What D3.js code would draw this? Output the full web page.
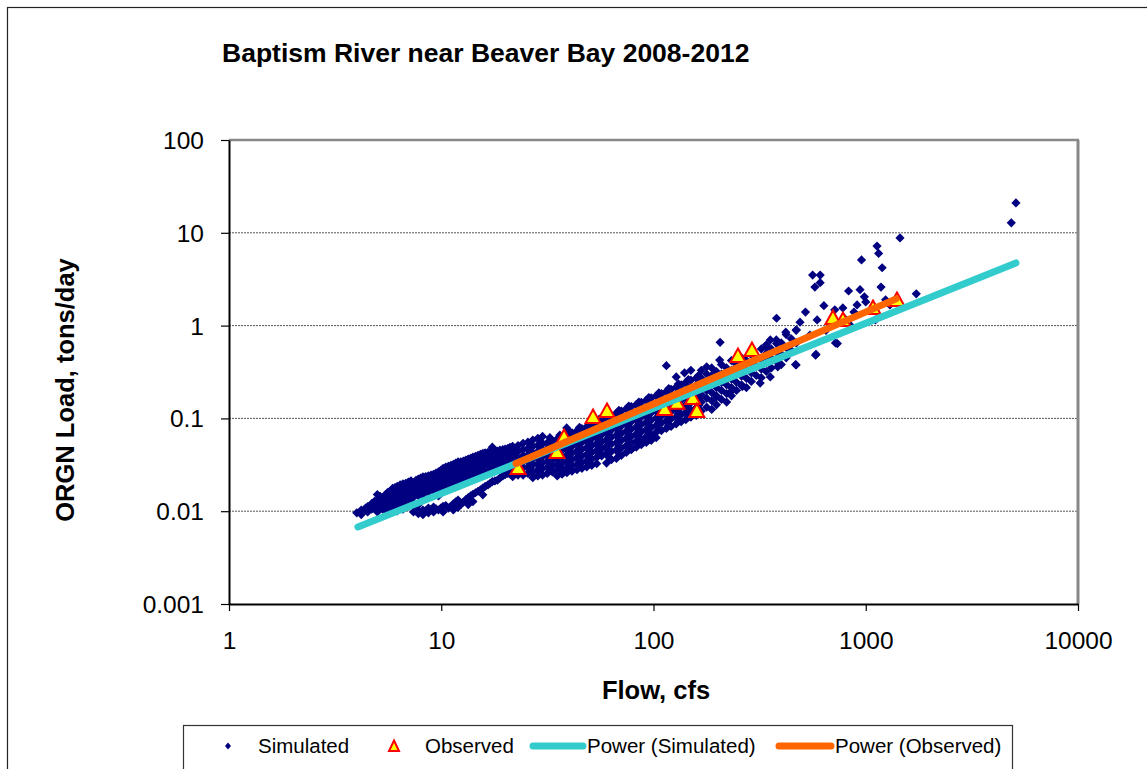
<!DOCTYPE html>
<html>
<head>
<meta charset="utf-8">
<script src="https://cdn.jsdelivr.net/npm/d3@7"></script>
<style>
  html, body { margin: 0; padding: 0; background: #fff; }
  svg { display: block; font-family: "Liberation Sans", Arial, sans-serif; }
</style>
</head>
<body>
<svg id="chart" width="1147" height="769"></svg>
<script>
// ---------------- data ----------------
const chartTitle = "Baptism River near Beaver Bay 2008-2012";
const xTitle = "Flow, cfs";
const yTitle = "ORGN Load, tons/day";
const xTicks = [1, 10, 100, 1000, 10000];
const xTickLabels = ["1", "10", "100", "1000", "10000"];
const yTicks = [0.001, 0.01, 0.1, 1, 10, 100];
const yTickLabels = ["0.001", "0.01", "0.1", "1", "10", "100"];
const legendLabels = ["Simulated", "Observed", "Power (Simulated)", "Power (Observed)"];

// simulated daily [flow cfs, load tons/day]
const simulated = [
[4.0,0.0096],[4.2,0.0103],[4.2,0.0092],[4.5,0.0112],[4.5,0.0098],[4.7,0.0121],[4.7,0.0105],
[5.0,0.0151],[5.0,0.0132],[5.0,0.0114],[5.0,0.0098],[5.3,0.0140],[5.3,0.0122],[5.3,0.0105],
[5.6,0.0160],[5.6,0.0137],[5.6,0.0116],[5.6,0.0098],[5.9,0.0176],[5.9,0.0150],[5.9,0.0126],[5.9,0.0108],
[6.2,0.0185],[6.2,0.0163],[6.2,0.0141],[6.2,0.0120],[6.2,0.0101],
[6.6,0.0197],[6.6,0.0170],[6.6,0.0150],[6.6,0.0125],[6.6,0.0105],
[7.0,0.0206],[7.0,0.0180],[7.0,0.0158],[7.0,0.0134],[7.0,0.0113],
[7.4,0.0190],[7.4,0.0165],[7.4,0.0142],[7.4,0.0120],[7.4,0.0098],
[7.8,0.0222],[7.8,0.0191],[7.8,0.0166],[7.8,0.0146],[7.8,0.0117],[7.8,0.0094],
[8.2,0.0235],[8.2,0.0206],[8.2,0.0178],[8.2,0.0151],[8.2,0.0103],[8.2,0.0092],
[8.7,0.0240],[8.7,0.0210],[8.7,0.0182],[8.7,0.0160],[8.7,0.0108],[8.7,0.0096],
[9.2,0.0250],[9.2,0.0220],[9.2,0.0191],[9.2,0.0166],[9.2,0.0111],[9.2,0.0098],
[9.7,0.0265],[9.7,0.0230],[9.7,0.0200],[9.7,0.0173],[9.7,0.0146],[9.7,0.0103],
[10.2,0.0290],[10.2,0.0250],[10.2,0.0216],[10.2,0.0186],[10.2,0.0113],[10.2,0.0098],
[10.8,0.0305],[10.8,0.0262],[10.8,0.0225],[10.8,0.0194],[10.8,0.0108],
[11.4,0.0320],[11.4,0.0276],[11.4,0.0236],[11.4,0.0204],[11.4,0.0120],[11.4,0.0103],
[12.0,0.0340],[12.0,0.0285],[12.0,0.0245],[12.0,0.0211],[12.0,0.0132],[12.0,0.0110],
[12.7,0.0346],[12.7,0.0300],[12.7,0.0256],[12.7,0.0220],[12.7,0.0125],
[13.4,0.0365],[13.4,0.0310],[13.4,0.0265],[13.4,0.0228],[13.4,0.0140],[13.4,0.0118],
[14.1,0.0382],[14.1,0.0325],[14.1,0.0278],[14.1,0.0238],[14.1,0.0152],[14.1,0.0127],
[14.9,0.0400],[14.9,0.0340],[14.9,0.0292],[14.9,0.0245],[14.9,0.0164],
[15.7,0.0420],[15.7,0.0356],[15.7,0.0305],[15.7,0.0255],[15.7,0.0177],[15.7,0.0150],
[16.6,0.0430],[16.6,0.0365],[16.6,0.0315],[16.6,0.0265],[16.6,0.0192],
[17.4,0.0490],[17.4,0.0400],[17.4,0.0340],[17.4,0.0290],[17.4,0.0208],
[18.4,0.0445],[18.4,0.0380],[18.4,0.0325],[18.4,0.0282],[18.4,0.0216],
[19.5,0.0460],[19.5,0.0395],[19.5,0.0340],[19.5,0.0290],[19.5,0.0240],
[20.6,0.0475],[20.6,0.0410],[20.6,0.0350],[20.6,0.0300],[20.6,0.0255],
[21.7,0.0500],[21.7,0.0430],[21.7,0.0365],[21.7,0.0315],[21.7,0.0270],[21.7,0.0235],
[23.0,0.0510],[23.0,0.0440],[23.0,0.0376],[23.0,0.0325],[23.0,0.0280],[23.0,0.0245],
[24.3,0.0540],[24.3,0.0460],[24.3,0.0395],[24.3,0.0340],[24.3,0.0290],[24.3,0.0245],
[25.6,0.0555],[25.6,0.0475],[25.6,0.0405],[25.6,0.0350],[25.6,0.0300],[25.6,0.0255],
[27.0,0.0585],[27.0,0.0500],[27.0,0.0425],[27.0,0.0365],[27.0,0.0315],[27.0,0.0265],[27.0,0.0230],
[28.5,0.0610],[28.5,0.0515],[28.5,0.0440],[28.5,0.0378],[28.5,0.0325],[28.5,0.0280],[28.5,0.0240],
[30.0,0.0640],[30.0,0.0530],[30.0,0.0455],[30.0,0.0390],[30.0,0.0335],[30.0,0.0290],[30.0,0.0245],
[31.6,0.0545],[31.6,0.0470],[31.6,0.0400],[31.6,0.0345],[31.6,0.0296],[31.6,0.0255],
[33.4,0.0570],[33.4,0.0485],[33.4,0.0415],[33.4,0.0355],[33.4,0.0305],[33.4,0.0265],
[35.2,0.0600],[35.2,0.0510],[35.2,0.0435],[35.2,0.0370],[35.2,0.0318],[35.2,0.0275],[35.2,0.0240],
[37.1,0.0630],[37.1,0.0535],[37.1,0.0455],[37.1,0.0385],[37.1,0.0330],[37.1,0.0285],[37.1,0.0250],
[39.1,0.0665],[39.1,0.0560],[39.1,0.0475],[39.1,0.0405],[39.1,0.0345],[39.1,0.0295],[39.1,0.0260],[39.0,0.0790],
[41.3,0.0700],[41.3,0.0590],[41.3,0.0500],[41.3,0.0425],[41.3,0.0360],[41.3,0.0310],[41.3,0.0270],
[43.6,0.0735],[43.6,0.0620],[43.6,0.0525],[43.6,0.0445],[43.6,0.0378],[43.6,0.0320],[43.6,0.0280],
[46.0,0.0775],[46.0,0.0650],[46.0,0.0550],[46.0,0.0465],[46.0,0.0395],[46.0,0.0335],[46.0,0.0290],
[48.5,0.0815],[48.5,0.0685],[48.5,0.0575],[48.5,0.0485],[48.5,0.0410],[48.5,0.0350],[48.5,0.0300],
[51.2,0.0860],[51.2,0.0720],[51.2,0.0605],[51.2,0.0510],[51.2,0.0430],[51.2,0.0365],[51.2,0.0312],
[54.0,0.0920],[54.0,0.0760],[54.0,0.0635],[54.0,0.0535],[54.0,0.0450],[54.0,0.0380],[54.0,0.0325],
[57.0,0.0960],[57.0,0.0800],[57.0,0.0670],[57.0,0.0560],[57.0,0.0470],[57.0,0.0395],
[60.1,0.102],[60.1,0.085],[60.1,0.071],[60.1,0.059],[60.1,0.050],[60.1,0.042],[60.1,0.033],
[63.4,0.108],[63.4,0.090],[63.4,0.075],[63.4,0.063],[63.4,0.053],[63.4,0.044],[63.4,0.036],
[66.9,0.114],[66.9,0.095],[66.9,0.079],[66.9,0.066],[66.9,0.055],[66.9,0.046],[66.9,0.037],
[70.6,0.120],[70.6,0.100],[70.6,0.083],[70.6,0.069],[70.6,0.058],[70.6,0.048],[70.6,0.040],
[74.5,0.127],[74.5,0.106],[74.5,0.088],[74.5,0.073],[74.5,0.061],[74.5,0.051],[74.5,0.043],
[78.6,0.134],[78.6,0.111],[78.6,0.092],[78.6,0.077],[78.6,0.064],[78.6,0.054],[78.6,0.046],
[83.0,0.141],[83.0,0.117],[83.0,0.097],[83.0,0.081],[83.0,0.068],[83.0,0.057],[83.0,0.049],
[87.6,0.149],[87.6,0.124],[87.6,0.103],[87.6,0.086],[87.6,0.072],[87.6,0.060],[87.6,0.052],
[92.5,0.157],[92.5,0.131],[92.5,0.109],[92.5,0.091],[92.5,0.076],[92.5,0.064],[92.5,0.055],
[97.6,0.166],[97.6,0.138],[97.6,0.115],[97.6,0.096],[97.6,0.080],[97.6,0.067],[97.6,0.058],
[103,0.175],[103,0.145],[103,0.121],[103,0.101],[103,0.084],[103,0.071],[103,0.062],
[109,0.185],[109,0.153],[109,0.128],[109,0.106],[109,0.089],[109,0.074],
[115,0.195],[115,0.162],[115,0.135],[115,0.112],[115,0.094],[115,0.078],[115,0.37],
[121,0.206],[121,0.171],[121,0.142],[121,0.118],[121,0.099],[121,0.082],
[128,0.218],[128,0.180],[128,0.150],[128,0.125],[128,0.104],[128,0.087],[128,0.28],
[135,0.230],[135,0.190],[135,0.158],[135,0.132],[135,0.110],[135,0.092],
[142,0.245],[142,0.202],[142,0.168],[142,0.140],[142,0.116],[142,0.097],[140,0.31],
[150,0.258],[150,0.213],[150,0.177],[150,0.148],[150,0.123],[150,0.103],[150,0.33],
[159,0.272],[159,0.225],[159,0.187],[159,0.156],[159,0.130],[159,0.108],
[168,0.330],[168,0.270],[168,0.220],[168,0.180],[168,0.150],[168,0.120],
[178,0.300],[178,0.245],[178,0.200],[178,0.165],[178,0.132],[178,0.36],
[188,0.350],[188,0.290],[188,0.235],[188,0.190],[188,0.155],[188,0.125],
[198,0.320],[198,0.260],[198,0.215],[198,0.175],[198,0.140],[198,0.17],
[209,0.380],[209,0.300],[209,0.245],[209,0.200],[209,0.160],[206,0.66],[205,0.425],
[221,0.350],[221,0.285],[221,0.230],[221,0.185],[221,0.150],[229,0.19],
[233,0.420],[233,0.330],[233,0.265],[233,0.215],[233,0.175],
[246,0.380],[246,0.305],[246,0.245],[246,0.200],[255,0.425],
[260,0.450],[260,0.360],[260,0.285],[260,0.230],[262,0.22],
[274,0.420],[274,0.335],[274,0.270],[274,0.215],
[289,0.500],[289,0.390],[289,0.310],[289,0.250],[285,0.50],
[305,0.470],[305,0.365],[305,0.290],[318,0.24],
[322,0.560],[322,0.430],[322,0.340],[322,0.275],
[340,0.620],[340,0.500],[340,0.400],[340,0.320],[340,0.58],
[355,0.70],[355,0.28],[359,0.560],[359,0.440],[359,0.350],
[379,0.700],[379,0.520],[379,0.410],[380,0.64],[380,1.2],[385,0.36],
[400,0.650],[400,0.490],[400,0.380],
[420,0.85],[422,0.800],[422,0.580],[422,0.450],
[446,0.720],[446,0.540],
[467,0.38],[470,0.89],[471,0.900],[471,0.650],[470,0.376],
[490,1.09],[520,1.40],[546,0.79],[562,3.5],[576,2.6],[580,0.48],[583,0.49],[590,1.15],
[610,3.5],[610,2.9],[635,1.64],[650,0.89],[680,1.01],[715,1.48],[720,0.65],[735,0.64],
[780,1.55],[790,1.21],[830,2.36],[845,1.01],[880,1.40],[910,1.67],[940,2.44],[955,5.1],
[985,2.04],[1000,1.80],[1050,1.48],[1110,1.15],[1130,7.2],[1150,6.0],[1180,2.6],[1195,4.2],
[1240,1.9],[1300,1.67],[1450,8.8],[1730,2.2],[4850,12.8],[5100,21],
[4.4,0.0108],[4.85,0.0128],[4.85,0.0108],[5.15,0.0145],[5.15,0.0118],[5.45,0.0150],[5.45,0.0127],[5.45,0.0108],
[5.75,0.0165],[5.75,0.0143],[5.75,0.0120],[6.05,0.0180],[6.05,0.0155],[6.05,0.0132],[6.05,0.0112],
[6.4,0.0192],[6.4,0.0165],[6.4,0.0142],[6.4,0.0120],[6.8,0.0200],[6.8,0.0175],[6.8,0.0152],[6.8,0.0130],
[7.2,0.0213],[7.2,0.0185],[7.2,0.0160],[7.2,0.0138],[7.6,0.0215],[7.6,0.0180],[7.6,0.0155],[7.6,0.0107],
[8.0,0.0228],[8.0,0.0196],[8.0,0.0168],[8.0,0.0098],[8.45,0.0236],[8.45,0.0200],[8.45,0.0170],[8.45,0.0101],
[8.95,0.0245],[8.95,0.0215],[8.95,0.0186],[8.95,0.0104],[9.45,0.0258],[9.45,0.0225],[9.45,0.0195],[9.45,0.0168],[9.45,0.0106],
[9.95,0.0275],[9.95,0.0240],[9.95,0.0208],[9.95,0.0180],[9.95,0.0108],
[10.5,0.0298],[10.5,0.0256],[10.5,0.0220],[10.5,0.0190],[10.5,0.0115],
[11.1,0.0312],[11.1,0.0268],[11.1,0.0230],[11.1,0.0198],[11.1,0.0112],
[11.7,0.0330],[11.7,0.0280],[11.7,0.0240],[11.7,0.0207],[11.7,0.0126],
[12.35,0.0340],[12.35,0.0292],[12.35,0.0250],[12.35,0.0215],[12.35,0.0118],
[13.05,0.0355],[13.05,0.0305],[13.05,0.0260],[13.05,0.0224],[13.05,0.0133],
[13.75,0.0372],[13.75,0.0318],[13.75,0.0272],[13.75,0.0233],[13.75,0.0146],
[14.5,0.0390],[14.5,0.0332],[14.5,0.0285],[14.5,0.0242],[14.5,0.0158],
[15.3,0.0410],[15.3,0.0348],[15.3,0.0298],[15.3,0.0250],[15.3,0.0170],
[16.1,0.0425],[16.1,0.0360],[16.1,0.0310],[16.1,0.0260],[16.1,0.0185],
[17.0,0.0440],[17.0,0.0375],[17.0,0.0328],[17.0,0.0278],[17.0,0.0200],
[17.9,0.0455],[17.9,0.0390],[17.9,0.0332],[17.9,0.0286],[17.9,0.0212],
[18.9,0.0455],[18.9,0.0388],[18.9,0.0332],[18.9,0.0286],[18.9,0.0228],
[20.0,0.0468],[20.0,0.0402],[20.0,0.0345],[20.0,0.0295],[20.0,0.0248],
[21.1,0.0488],[21.1,0.0420],[21.1,0.0358],[21.1,0.0308],[21.1,0.0262],
[22.3,0.047],[22.3,0.040],[22.3,0.034],[22.3,0.029],
[26.3,0.052],[26.3,0.044],[26.3,0.038],[26.3,0.032],[26.3,0.027],
[29.2,0.058],[29.2,0.048],[29.2,0.041],[29.2,0.035],[29.2,0.030],[29.2,0.026],
[32.5,0.062],[32.5,0.051],[32.5,0.043],[32.5,0.037],[32.5,0.032],[32.5,0.028],
[36.2,0.066],[36.2,0.056],[36.2,0.047],[36.2,0.040],[36.2,0.034],[36.2,0.029],
[40.2,0.072],[40.2,0.061],[40.2,0.052],[40.2,0.044],[40.2,0.037],[40.2,0.032],[40.2,0.028],
[44.8,0.080],[44.8,0.067],[44.8,0.057],[44.8,0.048],[44.8,0.041],[44.8,0.035],[44.8,0.030],
[49.8,0.089],[49.8,0.074],[49.8,0.063],[49.8,0.053],[49.8,0.045],[49.8,0.038],[49.8,0.033],
[55.5,0.098],[55.5,0.082],[55.5,0.069],[55.5,0.058],[55.5,0.049],[55.5,0.041],
[61.7,0.110],[61.7,0.092],[61.7,0.077],[61.7,0.064],[61.7,0.054],[61.7,0.045],[61.7,0.038],
[68.7,0.122],[68.7,0.102],[68.7,0.085],[68.7,0.071],[68.7,0.060],[68.7,0.050],[68.7,0.042],
[76.5,0.136],[76.5,0.113],[76.5,0.094],[76.5,0.079],[76.5,0.066],[76.5,0.056],[76.5,0.047],
[85.3,0.150],[85.3,0.125],[85.3,0.104],[85.3,0.087],[85.3,0.073],[85.3,0.062],[85.3,0.053],
[95.0,0.168],[95.0,0.140],[95.0,0.117],[95.0,0.098],[95.0,0.082],[95.0,0.069],[95.0,0.059],
[106,0.188],[106,0.156],[106,0.130],[106,0.109],[106,0.091],[106,0.076],
[118,0.210],[118,0.174],[118,0.145],[118,0.121],[118,0.101],[118,0.084],
[131,0.235],[131,0.195],[131,0.162],[131,0.135],[131,0.112],[131,0.094],
[146,0.262],[146,0.218],[146,0.180],[146,0.150],[146,0.125],[146,0.104],
[163,0.290],[163,0.240],[163,0.200],[163,0.165],[163,0.138]
];

// observed samples [flow cfs, load tons/day]
const observed = [
[23.0,0.0292],[35.1,0.0435],[37.9,0.063],[51.9,0.1035],[60.4,0.120],[113,0.126],
[129,0.147],[153,0.166],[160,0.120],[250,0.470],[291,0.546],[701,1.21],[781,1.15],
[1082,1.55],[1403,1.89]
];

// power trend lines (end points of each fitted line)
const simFitFlow = [4.05, 5100];
const simFitLoad = [0.00676, 4.73];
const obsFitFlow = [22.5, 1390];
const obsFitLoad = [0.0326, 1.94];

// ---------------- drawing ----------------
(function () {
const svg = d3.select("#chart");
const pL = 229, pR = 1078, pT = 140, pB = 604;

const x = d3.scaleLog().domain([1, 10000]).range([pL, pR]);
const y = d3.scaleLog().domain([0.001, 100]).range([pB, pT]);

// outer border
svg.append("rect").attr("x", 7.5).attr("y", 7.5).attr("width", 1160).attr("height", 800)
  .attr("fill", "#fff").attr("stroke", "#222").attr("stroke-width", 1.2);

// title
svg.append("text").attr("x", 222).attr("y", 62)
  .attr("font-size", 26.5).attr("font-weight", "bold").attr("fill", "#000")
  .text(chartTitle);

// gridlines
svg.append("g").selectAll("line").data(yTicks.filter(v => v > 0.001 && v < 100)).join("line")
  .attr("x1", pL).attr("x2", pR)
  .attr("y1", d => y(d)).attr("y2", d => y(d))
  .attr("stroke", "#555").attr("stroke-width", 1).attr("stroke-dasharray", "2,1");

// top & right plot border (gray)
svg.append("line").attr("x1", pL).attr("x2", pR + 1).attr("y1", pT).attr("y2", pT)
  .attr("stroke", "#888").attr("stroke-width", 2.5);
svg.append("line").attr("x1", pR).attr("x2", pR).attr("y1", pT).attr("y2", pB)
  .attr("stroke", "#888").attr("stroke-width", 3);

// axes
const xAxis = d3.axisBottom(x).tickValues(xTicks).tickFormat((d, i) => xTickLabels[i])
  .tickSize(7).tickSizeOuter(0);
const gx = svg.append("g").attr("transform", `translate(0,${pB})`).call(xAxis);
gx.select(".domain").attr("stroke", "#000").attr("stroke-width", 2);
gx.selectAll(".tick line").attr("stroke", "#000").attr("stroke-width", 1.2);
gx.selectAll(".tick text").attr("font-size", 24.5).attr("font-family", "Liberation Sans, Arial, sans-serif")
  .attr("fill", "#000").attr("dy", null).attr("y", 45);

const yAxis = d3.axisLeft(y).tickValues(yTicks).tickFormat((d, i) => yTickLabels[i])
  .tickSize(8).tickSizeOuter(0);
const gy = svg.append("g").attr("transform", `translate(${pL},0)`).call(yAxis);
gy.select(".domain").attr("stroke", "#000").attr("stroke-width", 2);
gy.selectAll(".tick line").attr("stroke", "#000").attr("stroke-width", 1.2);
gy.selectAll(".tick text").attr("font-size", 24.5).attr("font-family", "Liberation Sans, Arial, sans-serif")
  .attr("fill", "#000").attr("x", -25).attr("dy", "0.35em");

// axis titles
svg.append("text").attr("x", 656).attr("y", 699).attr("text-anchor", "middle")
  .attr("font-size", 25.5).attr("font-weight", "bold").text(xTitle);
svg.append("text").attr("transform", "translate(74,390) rotate(-90)").attr("text-anchor", "middle")
  .attr("font-size", 25.5).attr("font-weight", "bold").text(yTitle);

// marks
const diamond = "M0,-4.6L4.6,0L0,4.6L-4.6,0Z";
const tri = "M0,-7.5L7.5,6L-7.5,6Z";

svg.append("g").selectAll("path").data(simulated).join("path")
  .attr("d", diamond)
  .attr("transform", d => `translate(${x(d[0])},${y(d[1])})`)
  .attr("fill", "#000080");

svg.append("g").selectAll("path").data(observed).join("path")
  .attr("d", tri)
  .attr("transform", d => `translate(${x(d[0])},${y(d[1])})`)
  .attr("fill", "#FFFF00").attr("stroke", "#FF0000").attr("stroke-width", 2)
  .attr("stroke-linejoin", "miter");

const line = d3.line().x(d => x(d[0])).y(d => y(d[1]));
svg.append("path").datum(simFitFlow.map((f, i) => [f, simFitLoad[i]]))
  .attr("d", line).attr("fill", "none").attr("stroke", "#33CCCC")
  .attr("stroke-width", 7).attr("stroke-linecap", "round");
svg.append("path").datum(obsFitFlow.map((f, i) => [f, obsFitLoad[i]]))
  .attr("d", line).attr("fill", "none").attr("stroke", "#FF6600")
  .attr("stroke-width", 7).attr("stroke-linecap", "round");

// legend
const lg = svg.append("g");
lg.append("rect").attr("x", 183.5).attr("y", 725.5).attr("width", 829).attr("height", 60)
  .attr("fill", "#fff").attr("stroke", "#333").attr("stroke-width", 1.2);
const ly = 746;
lg.append("path").attr("d", "M0,-3.5L3,0L0,3.5L-3,0Z").attr("transform", `translate(228,${ly})`).attr("fill", "#000080");
lg.append("path").attr("d", "M0,-5.5L5,5L-5,5Z").attr("transform", `translate(394,${ly})`)
  .attr("fill", "#FFFF00").attr("stroke", "#FF0000").attr("stroke-width", 2);
lg.append("line").attr("x1", 533).attr("x2", 583).attr("y1", ly).attr("y2", ly)
  .attr("stroke", "#33CCCC").attr("stroke-width", 7).attr("stroke-linecap", "round");
lg.append("line").attr("x1", 779).attr("x2", 831).attr("y1", ly).attr("y2", ly)
  .attr("stroke", "#FF6600").attr("stroke-width", 7).attr("stroke-linecap", "round");
const legendX = [258, 425, 587, 835];
lg.selectAll("text.leg").data(legendLabels).join("text").attr("class", "leg")
  .attr("x", (d, i) => legendX[i]).attr("y", ly + 7)
  .attr("font-size", 20.5).attr("fill", "#000").text(d => d);
})();
</script>
</body>
</html>
